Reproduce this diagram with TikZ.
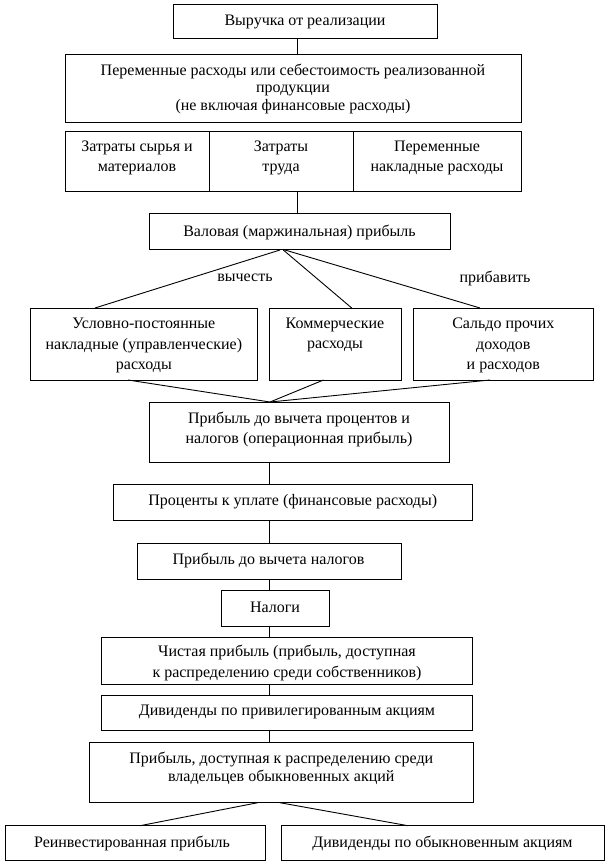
\documentclass[tikz,border=0pt]{standalone}
\usepackage{fontspec}
\setmainfont{Liberation Serif}
\begin{document}
\begin{tikzpicture}[x=1pt,y=-1pt,
  box/.style={draw=black,line width=1pt,rectangle,inner sep=0pt,outer sep=0pt},
  txt/.style={inner sep=0pt,align=center,font=\fontsize{16}{17.5}\selectfont},
  txtw/.style={inner sep=0pt,align=center,font=\fontsize{16}{20.3}\selectfont},
  conn/.style={draw=black,line width=0.9pt}]
\useasboundingbox[fill=white] (0,0) rectangle (610,866);
% boxes
\node[box,minimum width=264,minimum height=34] (b1) at (305,22) {};
\node[box,minimum width=456,minimum height=68] (b2) at (293,89) {};
\node[box,minimum width=144,minimum height=60] (c1) at (137,162) {};
\node[box,minimum width=144,minimum height=60] (c2) at (281,162) {};
\node[box,minimum width=168,minimum height=60] (c3) at (437,162) {};
\node[box,minimum width=301,minimum height=36] (g) at (299.5,232) {};
\node[box,minimum width=227.7,minimum height=72] (rl) at (143.85,344) {};
\node[box,minimum width=132,minimum height=72] (rm) at (335,344) {};
\node[box,minimum width=180,minimum height=72] (rr) at (503.3,344) {};
\node[box,minimum width=300,minimum height=60] (op) at (299,432) {};
\node[box,minimum width=359.6,minimum height=36] (it) at (292.8,502) {};
\node[box,minimum width=264,minimum height=36] (pbt) at (269,561.2) {};
\node[box,minimum width=108,minimum height=36] (tx) at (275,608) {};
\node[box,minimum width=371,minimum height=46.6] (net) at (287,661) {};
\node[box,minimum width=371,minimum height=34.7] (pref) at (287,713.3) {};
\node[box,minimum width=384,minimum height=59.7] (com) at (281.3,772.8) {};
\node[box,minimum width=260.7,minimum height=35] (bl) at (135.6,843.2) {};
\node[box,minimum width=323,minimum height=35] (br) at (442.5,843.2) {};
% texts
\node[txt] (t1) at (305,21.5) {Выручка от реализации};
\node[txt] (t2) at (293,88.5) {Переменные расходы или себестоимость реализованной\\продукции\\(не включая финансовые расходы)};
\node[txtw,font=\fontsize{16}{20}\selectfont] (t31) at (137,158) {Затраты сырья и\\материалов};
\node[txtw,font=\fontsize{16}{20}\selectfont] (t32) at (281,158) {Затраты\\труда};
\node[txtw,font=\fontsize{16}{20}\selectfont] (t33) at (437,158) {Переменные\\накладные расходы};
\node[txt] (tg) at (299.5,232) {Валовая (маржинальная) прибыль};
\node[txt] (lv) at (245,277.5) {вычесть};
\node[txt] (lp) at (495,278) {прибавить};
\node[txtw] (trl) at (143.85,345.5) {Условно-постоянные\\накладные (управленческие)\\расходы};
\node[txtw] (trm) at (335,335) {Коммерческие\\расходы};
\node[txtw] (trr) at (503.3,345.5) {Сальдо прочих\\доходов\\и расходов};
\node[txtw] (top) at (299,429.2) {Прибыль до вычета процентов и\\налогов (операционная прибыль)};
\node[txt] (tit) at (292.8,502) {Проценты к уплате (финансовые расходы)};
\node[txt] (tpbt) at (268.5,560.7) {Прибыль до вычета налогов};
\node[txt] (ttx) at (275,607.5) {Налоги};
\node[txtw,font=\fontsize{16}{20.6}\selectfont] (tnet) at (287,663) {Чистая прибыль (прибыль, доступная\\к распределению среди собственников)};
\node[txt] (tpref) at (287,712.3) {Дивиденды по привилегированным акциям};
\node[txt,font=\fontsize{16}{18.3}\selectfont] (tcom) at (281.3,768.2) {Прибыль, доступная к распределению среди\\владельцев обыкновенных акций};
\node[txt] (tbl) at (132,843) {Реинвестированная прибыль};
\node[txt] (tbr) at (442.5,843) {Дивиденды по обыкновенным акциям};
% connectors
\draw[conn] ([xshift=-8]b1.south) -- ([xshift=4]b2.north);
\draw[conn] ([xshift=16]c2.south) -- ([xshift=-2.5]g.north);
\draw[conn] ([xshift=-19.5]g.south) -- ([xshift=-48.85]rl.north);
\draw[conn] ([xshift=-16.2]g.south) -- ([xshift=16.7]rm.north);
\draw[conn] ([xshift=-14.5]g.south) -- ([xshift=-23.3]rr.north);
\draw[conn] ([xshift=-15.85]rl.south) -- ([xshift=-29]op.north);
\draw[conn] ([xshift=-11.5]rm.south) -- ([xshift=-29]op.north);
\draw[conn] ([xshift=-13.3]rr.south) -- ([xshift=-29]op.north);
\draw[conn] ([xshift=-30]op.south) -- ([xshift=-23.8]it.north);
\draw[conn] ([xshift=-23.8]it.south) -- (pbt.north);
\draw[conn] (pbt.south) -- ([xshift=-6]tx.north);
\draw[conn] ([xshift=-6]tx.south) -- ([xshift=-18]net.north);
\draw[conn] ([xshift=-18]net.south) -- ([xshift=-18]pref.north);
\draw[conn] ([xshift=-18]pref.south) -- ([xshift=-12.3]com.north);
\draw[conn] ([xshift=-23.3]com.south) -- ([xshift=4.4]bl.north);
\draw[conn] ([xshift=-1.7]com.south) -- ([xshift=-34.5]br.north);
\end{tikzpicture}
\end{document}
